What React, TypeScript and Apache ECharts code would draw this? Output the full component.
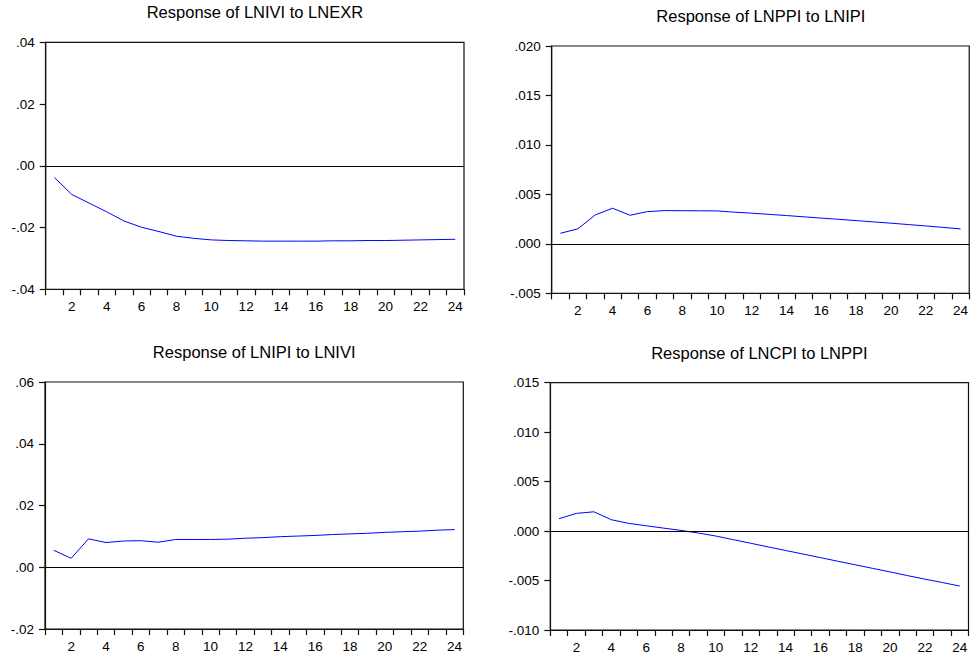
import React, { useEffect, useRef } from "react";
import * as echarts from "echarts";

const periods = ["1","2","3","4","5","6","7","8","9","10","11","12","13","14","15","16","17","18","19","20","21","22","23","24"];

const titles = [
  "Response of LNIVI to LNEXR",
  "Response of LNPPI to LNIPI",
  "Response of LNIPI to LNIVI",
  "Response of LNCPI to LNPPI",
];

const respIviExr = [-0.0038, -0.0093, -0.0121, -0.0149, -0.0179, -0.0199, -0.0213, -0.0228, -0.0235, -0.0240, -0.0242, -0.0243, -0.0244, -0.0244, -0.0244, -0.0244, -0.0243, -0.0243, -0.0242, -0.0242, -0.0241, -0.0240, -0.0239, -0.0238];
const respPpiIpi = [0.00107, 0.00151, 0.00292, 0.0036, 0.00289, 0.00326, 0.00336, 0.00335, 0.00334, 0.00333, 0.0032, 0.0031, 0.00298, 0.00286, 0.00273, 0.0026, 0.00248, 0.00235, 0.00222, 0.00209, 0.00195, 0.00181, 0.00166, 0.00151];
const respIpiIvi = [0.0055, 0.0029, 0.0092, 0.0080, 0.0085, 0.0086, 0.0081, 0.0090, 0.0090, 0.0090, 0.0091, 0.0094, 0.0096, 0.0099, 0.0101, 0.0103, 0.0106, 0.0108, 0.0110, 0.0113, 0.0115, 0.0117, 0.0120, 0.0122];
const respCpiPpi = [0.00125, 0.00179, 0.00195, 0.00115, 0.00078, 0.00054, 0.0003, 0.00007, -0.0002, -0.0005, -0.00087, -0.00123, -0.0016, -0.00196, -0.00232, -0.00268, -0.00305, -0.00341, -0.00377, -0.00413, -0.0045, -0.00486, -0.0052, -0.00556];

const yMins = [-0.04, -0.005, -0.02, -0.01];
const yMaxs = [0.04, 0.02, 0.06, 0.015];
const yIntervals = [0.02, 0.005, 0.02, 0.005];
const yDecimals = [2, 3, 2, 3];

const FONT = "'Liberation Sans', Arial, Helvetica, sans-serif";

const grids = [
  { left: 45.7, top: 42.3, width: 418.3, height: 247 },
  { left: 551.7, top: 46, width: 418.3, height: 247.3 },
  { left: 45, top: 382, width: 418.3, height: 247 },
  { left: 550.3, top: 382.7, width: 418.2, height: 247.3 },
];
const titlePos = [
  { x: 254.9, y: 3 },
  { x: 760.9, y: 7 },
  { x: 254.2, y: 343 },
  { x: 759.4, y: 344 },
];

function fmt(d: number) {
  return (v: number) => {
    const s = Math.abs(v).toFixed(d).replace(/^0/, "");
    return v < -1e-12 ? "-" + s : s;
  };
}

export default function App() {
  const ref = useRef<HTMLDivElement>(null);
  useEffect(() => {
    if (!ref.current) return;
    const chart = echarts.init(ref.current, undefined, { renderer: "svg" });
    const series = [respIviExr, respPpiIpi, respIpiIvi, respCpiPpi];
    const option = {
      animation: false,
      backgroundColor: "#ffffff",
      title: titles.map((t, i) => ({
        text: t,
        left: titlePos[i].x,
        top: titlePos[i].y,
        textAlign: "center",
        padding: 0,
        textStyle: { fontFamily: FONT, fontSize: 16.5, fontWeight: "normal", color: "#000" },
      })),
      grid: grids.map((g) => ({
        ...g,
        show: true,
        borderColor: "#111",
        borderWidth: 1.2,
        backgroundColor: "transparent",
        containLabel: false,
      })),
      xAxis: grids.map((_, i) => ({
        type: "category",
        gridIndex: i,
        data: periods,
        boundaryGap: true,
        position: "bottom",
        axisLine: { show: true, onZero: false, lineStyle: { color: "#111", width: 1.2 } },
        axisTick: { show: true, interval: 0, length: 6, inside: false, lineStyle: { color: "#111", width: 1.2 } },
        axisLabel: {
          interval: (idx: number) => idx % 2 === 1,
          margin: 10,
          color: "#000",
          fontFamily: FONT,
          fontSize: 13.5,
        },
        splitLine: { show: false },
      })),
      yAxis: grids.map((_, i) => ({
        type: "value",
        gridIndex: i,
        min: yMins[i],
        max: yMaxs[i],
        interval: yIntervals[i],
        position: "left",
        axisLine: { show: true, onZero: false, lineStyle: { color: "#111", width: 1.2 } },
        axisTick: { show: true, length: 6, inside: false, lineStyle: { color: "#111", width: 1.2 } },
        axisLabel: {
          formatter: fmt(yDecimals[i]),
          margin: 11,
          color: "#000",
          fontFamily: FONT,
          fontSize: 13.5,
        },
        splitLine: { show: false },
      })),
      series: series.map((d, i) => ({
        type: "line",
        xAxisIndex: i,
        yAxisIndex: i,
        data: d,
        symbol: "none",
        smooth: false,
        lineStyle: { color: "#0000ff", width: 1 },
        itemStyle: { color: "#0000ff" },
        silent: true,
        markLine: {
          silent: true,
          symbol: "none",
          label: { show: false },
          lineStyle: { color: "#000", width: 1, type: "solid" },
          data: [{ yAxis: 0 }],
        },
      })),
    };
    chart.setOption(option as any);
    return () => chart.dispose();
  }, []);
  return (
    <div
      ref={ref}
      style={{ position: "absolute", left: 0, top: 0, width: 971, height: 657 }}
    />
  );
}
